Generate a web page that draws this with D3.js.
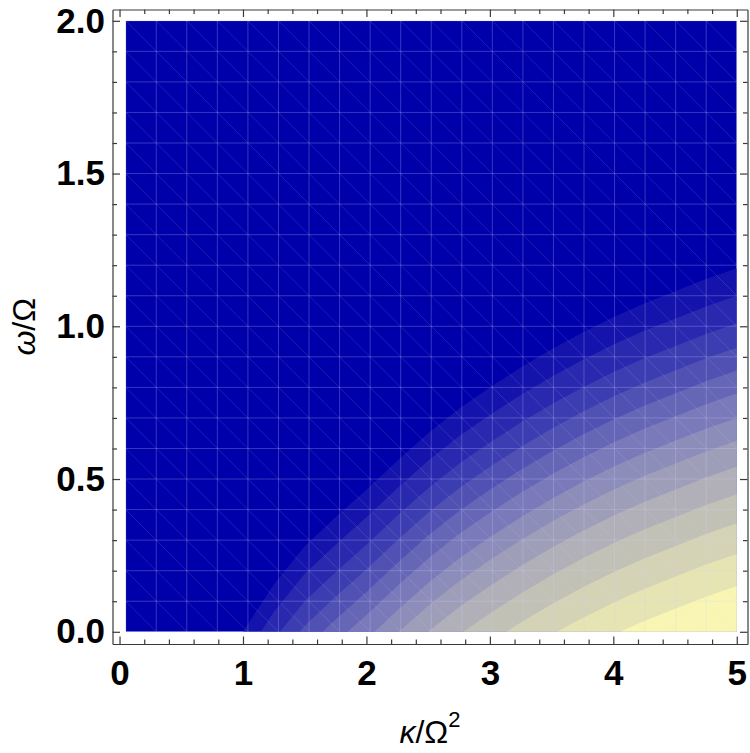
<!DOCTYPE html>
<html>
<head>
<meta charset="utf-8">
<script src="https://cdn.jsdelivr.net/npm/d3@7"></script>
<style>
	body { margin: 0; background: #fff; }
	svg { display: block; font-family: "Liberation Sans", Arial, sans-serif; }
</style>
</head>
<body>
<svg id="chart" width="750" height="753"></svg>
<script>
	// sampled region of the plot
	const kappaRange = [0.05, 5];
	const omegaRange = [0, 2];

	const xTicks = [0, 1, 2, 3, 4, 5];
	const xTickLabels = ["0", "1", "2", "3", "4", "5"];
	const yTicks = [0, 0.5, 1, 1.5, 2];
	const yTickLabels = ["0.0", "0.5", "1.0", "1.5", "2.0"];

	// mesh (sample grid) positions
	const meshKappa = [0.05, 0.2975, 0.545, 0.7925, 1.04, 1.2875, 1.535, 1.7825, 2.03, 2.2775, 2.525,
		2.7725, 3.02, 3.2675, 3.515, 3.7625, 4.01, 4.2575, 4.505, 4.7525, 5];
	const meshOmega = [0, 0.1, 0.2, 0.3, 0.4, 0.5, 0.6, 0.7, 0.8, 0.9, 1.0,
		1.1, 1.2, 1.3, 1.4, 1.5, 1.6, 1.7, 1.8, 1.9, 2.0];

	// contour boundaries, [kappa, omega], lowest level first
	const contour0 = [[1, 0], [1.25, 0.155], [1.5, 0.28], [1.75, 0.375], [2, 0.465], [2.25, 0.56], [2.5, 0.65], [2.75, 0.73], [3, 0.80], [3.25, 0.865], [3.5, 0.925], [3.75, 0.98], [4, 1.03], [4.25, 1.075], [4.5, 1.115], [4.75, 1.155], [5, 1.19]];
	const contour1 = [[1.145, 0], [1.25, 0.065], [1.5, 0.19], [1.75, 0.285], [2, 0.375], [2.25, 0.47], [2.5, 0.56], [2.75, 0.64], [3, 0.71], [3.25, 0.775], [3.5, 0.835], [3.75, 0.89], [4, 0.94], [4.25, 0.985], [4.5, 1.025], [4.75, 1.065], [5, 1.10]];
	const contour2 = [[1.30, 0], [1.5, 0.10], [1.75, 0.195], [2, 0.285], [2.25, 0.38], [2.5, 0.47], [2.75, 0.55], [3, 0.62], [3.25, 0.685], [3.5, 0.745], [3.75, 0.80], [4, 0.85], [4.25, 0.895], [4.5, 0.935], [4.75, 0.975], [5, 1.01]];
	const contour3 = [[1.46, 0], [1.5, 0.02], [1.75, 0.115], [2, 0.205], [2.25, 0.30], [2.5, 0.39], [2.75, 0.47], [3, 0.54], [3.25, 0.605], [3.5, 0.665], [3.75, 0.72], [4, 0.77], [4.25, 0.815], [4.5, 0.855], [4.75, 0.895], [5, 0.93]];
	const contour4 = [[1.645, 0], [1.75, 0.04], [2, 0.13], [2.25, 0.225], [2.5, 0.315], [2.75, 0.395], [3, 0.465], [3.25, 0.53], [3.5, 0.59], [3.75, 0.645], [4, 0.695], [4.25, 0.74], [4.5, 0.78], [4.75, 0.82], [5, 0.855]];
	const contour5 = [[1.847, 0], [2, 0.055], [2.25, 0.15], [2.5, 0.24], [2.75, 0.32], [3, 0.39], [3.25, 0.455], [3.5, 0.515], [3.75, 0.57], [4, 0.62], [4.25, 0.665], [4.5, 0.705], [4.75, 0.745], [5, 0.78]];
	const contour6 = [[2.066, 0], [2.25, 0.07], [2.5, 0.16], [2.75, 0.24], [3, 0.31], [3.25, 0.375], [3.5, 0.435], [3.75, 0.49], [4, 0.54], [4.25, 0.585], [4.5, 0.625], [4.75, 0.665], [5, 0.70]];
	const contour7 = [[2.264, 0], [2.5, 0.085], [2.75, 0.165], [3, 0.235], [3.25, 0.30], [3.5, 0.36], [3.75, 0.415], [4, 0.465], [4.25, 0.51], [4.5, 0.55], [4.75, 0.59], [5, 0.625]];
	const contour8 = [[2.5, 0], [2.75, 0.08], [3, 0.15], [3.25, 0.215], [3.5, 0.275], [3.75, 0.33], [4, 0.38], [4.25, 0.425], [4.5, 0.465], [4.75, 0.505], [5, 0.54]];
	const contour9 = [[2.786, 0], [3, 0.06], [3.25, 0.125], [3.5, 0.185], [3.75, 0.24], [4, 0.29], [4.25, 0.335], [4.5, 0.375], [4.75, 0.415], [5, 0.45]];
	const contour10 = [[3.135, 0], [3.25, 0.03], [3.5, 0.09], [3.75, 0.145], [4, 0.195], [4.25, 0.24], [4.5, 0.28], [4.75, 0.32], [5, 0.355]];
	const contour11 = [[3.545, 0], [3.75, 0.045], [4, 0.095], [4.25, 0.14], [4.5, 0.18], [4.75, 0.22], [5, 0.255]];
	const contour12 = [[4.056, 0], [4.25, 0.035], [4.5, 0.075], [4.75, 0.115], [5, 0.15]];
	const contours = [contour0, contour1, contour2, contour3, contour4, contour5, contour6,
		contour7, contour8, contour9, contour10, contour11, contour12];

	// shade index of each band: 0 is the flat region, 13 the corner
	const bandLevels = [0, 1, 2, 3, 4, 5, 6, 7, 8, 9, 10, 11, 12, 13];

	const svg = d3.select("#chart");

	const x = d3.scaleLinear().domain([-0.057, 5.087]).range([112.5, 747.5]);
	const y = d3.scaleLinear().domain([-0.04, 2.037]).range([644, 9.5]);
	const color = d3.scaleLinear()
		.domain([0, 6.5, 13])
		.range(["#0000aa", "#8484bb", "#f8f6b2"])
		.interpolate(d3.interpolateRgb);

	svg.append("clipPath").attr("id", "plot-clip")
		.append("rect")
		.attr("x", x(kappaRange[0]))
		.attr("y", y(omegaRange[1]))
		.attr("width", x(kappaRange[1]) - x(kappaRange[0]))
		.attr("height", y(omegaRange[0]) - y(omegaRange[1]));

	const plot = svg.append("g").attr("clip-path", "url(#plot-clip)");

	// flat (lowest) region
	plot.append("rect")
		.attr("x", x(kappaRange[0]))
		.attr("y", y(omegaRange[1]))
		.attr("width", x(kappaRange[1]) - x(kappaRange[0]))
		.attr("height", y(omegaRange[0]) - y(omegaRange[1]))
		.attr("fill", color(bandLevels[0]));

	// each band covers everything below/right of its contour
	const line = d3.line().x(d => x(d[0])).y(d => y(d[1]));
	contours.forEach(function(c, i) {
		const pts = c.concat([[kappaRange[1], omegaRange[0]]]);
		plot.append("path")
			.attr("d", line(pts) + "Z")
			.attr("fill", color(bandLevels[i + 1]));
	});

	// mesh
	const mesh = plot.append("g").attr("stroke", "#d2d2ff").attr("fill", "none");
	meshKappa.forEach(function(k) {
		mesh.append("line")
			.attr("x1", x(k)).attr("x2", x(k))
			.attr("y1", y(omegaRange[0])).attr("y2", y(omegaRange[1]))
			.attr("stroke-opacity", 0.26).attr("stroke-width", 1);
	});
	meshOmega.forEach(function(w) {
		mesh.append("line")
			.attr("x1", x(kappaRange[0])).attr("x2", x(kappaRange[1]))
			.attr("y1", y(w)).attr("y2", y(w))
			.attr("stroke-opacity", 0.26).attr("stroke-width", 1);
	});
	for (let i = 0; i < meshKappa.length - 1; i++) {
		for (let j = 0; j < meshOmega.length - 1; j++) {
			mesh.append("line")
				.attr("x1", x(meshKappa[i])).attr("y1", y(meshOmega[j + 1]))
				.attr("x2", x(meshKappa[i + 1])).attr("y2", y(meshOmega[j]))
				.attr("stroke-opacity", 0.18).attr("stroke-width", 0.8);
		}
	}

	// frame with ticks on all sides, pointing inward
	const xMinor = x.ticks(25).filter(v => xTicks.indexOf(v) < 0 && v >= 0 && v <= 5);
	const yMinor = y.ticks(20).filter(v => yTicks.indexOf(v) < 0 && v >= 0 && v <= 2);

	function styleAxis(g) {
		g.selectAll("path, line").attr("stroke", "#3a3a3a").attr("stroke-width", 1.2);
		g.selectAll("text").attr("font-size", 35).attr("font-weight", "bold").attr("fill", "#000");
	}

	svg.append("g")
		.attr("transform", "translate(0," + y.range()[0] + ")")
		.call(d3.axisBottom(x).tickValues(xTicks).tickFormat((d, i) => xTickLabels[i])
			.tickSizeInner(-7.5).tickSizeOuter(0).tickPadding(16))
		.call(styleAxis);
	svg.append("g")
		.attr("transform", "translate(0," + y.range()[0] + ")")
		.call(d3.axisBottom(x).tickValues(xMinor).tickFormat("").tickSizeInner(-4.5).tickSizeOuter(0))
		.call(g => g.select(".domain").remove())
		.call(styleAxis);

	svg.append("g")
		.attr("transform", "translate(0," + y.range()[1] + ")")
		.call(d3.axisTop(x).tickValues(xTicks).tickFormat("").tickSizeInner(-7.5).tickSizeOuter(0))
		.call(styleAxis);
	svg.append("g")
		.attr("transform", "translate(0," + y.range()[1] + ")")
		.call(d3.axisTop(x).tickValues(xMinor).tickFormat("").tickSizeInner(-4.5).tickSizeOuter(0))
		.call(g => g.select(".domain").remove())
		.call(styleAxis);

	svg.append("g")
		.attr("transform", "translate(" + x.range()[0] + ",0)")
		.call(d3.axisLeft(y).tickValues(yTicks).tickFormat((d, i) => yTickLabels[i])
			.tickSizeInner(-7.5).tickSizeOuter(0).tickPadding(7.5))
		.call(styleAxis);
	svg.append("g")
		.attr("transform", "translate(" + x.range()[0] + ",0)")
		.call(d3.axisLeft(y).tickValues(yMinor).tickFormat("").tickSizeInner(-4.5).tickSizeOuter(0))
		.call(g => g.select(".domain").remove())
		.call(styleAxis);

	svg.append("g")
		.attr("transform", "translate(" + x.range()[1] + ",0)")
		.call(d3.axisRight(y).tickValues(yTicks).tickFormat("").tickSizeInner(-7.5).tickSizeOuter(0))
		.call(styleAxis);
	svg.append("g")
		.attr("transform", "translate(" + x.range()[1] + ",0)")
		.call(d3.axisRight(y).tickValues(yMinor).tickFormat("").tickSizeInner(-4.5).tickSizeOuter(0))
		.call(g => g.select(".domain").remove())
		.call(styleAxis);

	// axis titles
	const xTitle = svg.append("text")
		.attr("x", (x.range()[0] + x.range()[1]) / 2)
		.attr("y", 743)
		.attr("text-anchor", "middle")
		.attr("font-size", 32);
	xTitle.append("tspan").attr("font-style", "italic").text("κ");
	xTitle.append("tspan").text("/Ω");
	xTitle.append("tspan").attr("font-size", 22).attr("dy", -16).text("2");

	const yTitle = svg.append("text")
		.attr("transform", "translate(35," + (y.range()[0] + y.range()[1]) / 2 + ") rotate(-90)")
		.attr("text-anchor", "middle")
		.attr("font-size", 32);
	yTitle.append("tspan").attr("font-style", "italic").text("ω");
	yTitle.append("tspan").text("/Ω");
</script>
</body>
</html>
